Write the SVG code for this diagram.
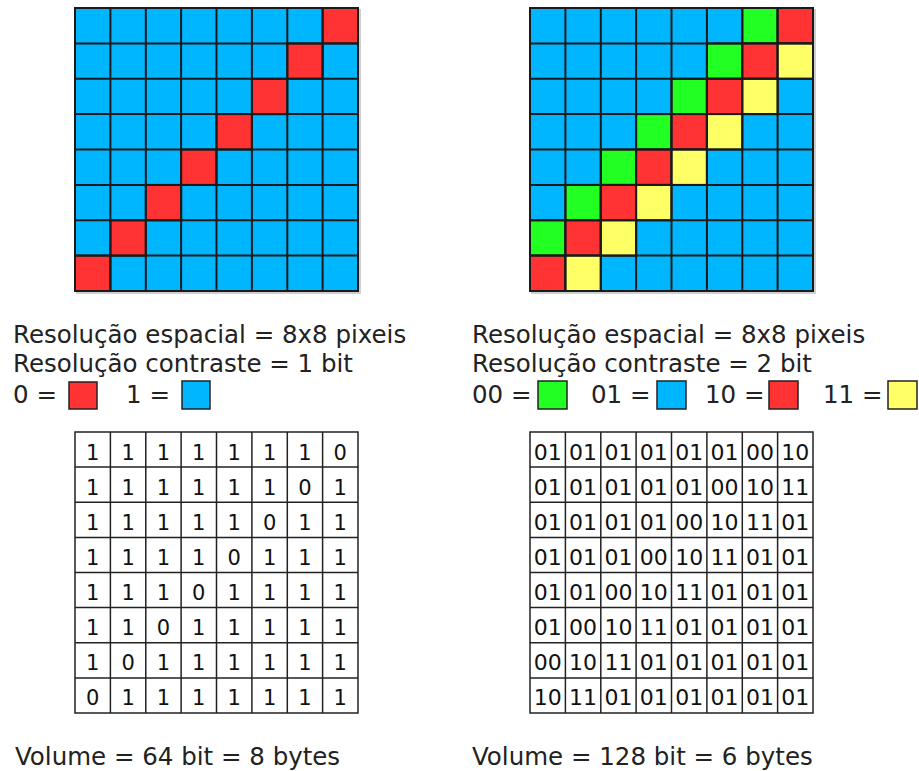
<svg xmlns="http://www.w3.org/2000/svg" width="919" height="771" viewBox="0 0 919 771">
<style>
.b{fill:#00B6FF}.r{fill:#FF3333}.g{fill:#22FF22}.y{fill:#FFFF66}
.cell{stroke:#1a1a1a;stroke-width:2}
.tc{fill:#fff;stroke:#222;stroke-width:1.5}
.t{font-family:"DejaVu Sans",Verdana,sans-serif;font-size:24.5px;fill:#222}
.d{font-family:"DejaVu Sans",Verdana,sans-serif;font-size:21px;fill:#111;text-anchor:middle}
.d2{font-family:"DejaVu Sans",Verdana,sans-serif;font-size:22px;fill:#111;text-anchor:middle}
.sh{fill:none;stroke:#cfcfcf;stroke-width:2}
.lg{stroke:#222;stroke-width:1.5}
</style>

<g id="grid1bit">
<path class="sh" d="M360 9V293H76"/>
<g class="cell">
<rect class="b" x="75" y="8" width="283" height="283"/>
<g class="r">
<rect x="322.6" y="8" width="35.4" height="35.4"/>
<rect x="287.3" y="43.4" width="35.4" height="35.4"/>
<rect x="251.9" y="78.8" width="35.4" height="35.4"/>
<rect x="216.5" y="114.1" width="35.4" height="35.4"/>
<rect x="181.1" y="149.5" width="35.4" height="35.4"/>
<rect x="145.8" y="184.9" width="35.4" height="35.4"/>
<rect x="110.4" y="220.3" width="35.4" height="35.4"/>
<rect x="75" y="255.6" width="35.4" height="35.4"/>
</g>
<path fill="none" d="M110.4 8V291M145.8 8V291M181.1 8V291M216.5 8V291M251.9 8V291M287.3 8V291M322.6 8V291M75 43.4H358M75 78.8H358M75 114.1H358M75 149.5H358M75 184.9H358M75 220.3H358M75 255.6H358"/>
<rect x="75" y="8" width="283" height="283" fill="none"/>
</g>
</g>

<g id="grid2bit">
<path class="sh" d="M815 9V293H531"/>
<g class="cell">
<rect class="b" x="530" y="8" width="283" height="283"/>
<g class="g">
<rect x="742.3" y="8" width="35.4" height="35.4"/>
<rect x="706.9" y="43.4" width="35.4" height="35.4"/>
<rect x="671.5" y="78.8" width="35.4" height="35.4"/>
<rect x="636.1" y="114.1" width="35.4" height="35.4"/>
<rect x="600.8" y="149.5" width="35.4" height="35.4"/>
<rect x="565.4" y="184.9" width="35.4" height="35.4"/>
<rect x="530" y="220.3" width="35.4" height="35.4"/>
</g>
<g class="r">
<rect x="777.6" y="8" width="35.4" height="35.4"/>
<rect x="742.3" y="43.4" width="35.4" height="35.4"/>
<rect x="706.9" y="78.8" width="35.4" height="35.4"/>
<rect x="671.5" y="114.1" width="35.4" height="35.4"/>
<rect x="636.1" y="149.5" width="35.4" height="35.4"/>
<rect x="600.8" y="184.9" width="35.4" height="35.4"/>
<rect x="565.4" y="220.3" width="35.4" height="35.4"/>
<rect x="530" y="255.6" width="35.4" height="35.4"/>
</g>
<g class="y">
<rect x="777.6" y="43.4" width="35.4" height="35.4"/>
<rect x="742.3" y="78.8" width="35.4" height="35.4"/>
<rect x="706.9" y="114.1" width="35.4" height="35.4"/>
<rect x="671.5" y="149.5" width="35.4" height="35.4"/>
<rect x="636.1" y="184.9" width="35.4" height="35.4"/>
<rect x="600.8" y="220.3" width="35.4" height="35.4"/>
<rect x="565.4" y="255.6" width="35.4" height="35.4"/>
</g>
<path fill="none" d="M565.4 8V291M600.8 8V291M636.1 8V291M671.5 8V291M706.9 8V291M742.3 8V291M777.6 8V291M530 43.4H813M530 78.8H813M530 114.1H813M530 149.5H813M530 184.9H813M530 220.3H813M530 255.6H813"/>
<rect x="530" y="8" width="283" height="283" fill="none"/>
</g>
</g>

<g id="legend1">
<text class="t" x="13" y="343">Resolução espacial = 8x8 pixeis</text>
<text class="t" x="13" y="372">Resolução contraste = 1 bit</text>
<text class="t" x="13" y="403">0 =</text>
<rect class="r lg" x="69" y="382" width="28" height="27"/>
<text class="t" x="126" y="403">1 =</text>
<rect class="b lg" x="182" y="381" width="28" height="28"/>
</g>

<g id="legend2">
<text class="t" x="472" y="343">Resolução espacial = 8x8 pixeis</text>
<text class="t" x="472" y="372">Resolução contraste = 2 bit</text>
<text class="t" x="472" y="403">00 =</text>
<rect class="g lg" x="538" y="381" width="29" height="28"/>
<text class="t" x="591" y="403">01 =</text>
<rect class="b lg" x="657" y="381" width="29" height="28"/>
<text class="t" x="705" y="403">10 =</text>
<rect class="r lg" x="769" y="381" width="29" height="28"/>
<text class="t" x="823" y="403">11 =</text>
<rect class="y lg" x="888" y="381" width="29" height="28"/>
</g>

<g id="table1">
<rect class="tc" x="75" y="432" width="283" height="281"/>
<path fill="none" stroke="#222" stroke-width="1.5" d="M110.4 432V713M145.8 432V713M181.1 432V713M216.5 432V713M251.9 432V713M287.3 432V713M322.6 432V713M75 467.1H358M75 502.3H358M75 537.4H358M75 572.5H358M75 607.6H358M75 642.8H358M75 677.9H358"/>
<g class="d">
<text y="459.5"><tspan x="92.7">1</tspan><tspan x="128.1">1</tspan><tspan x="163.5">1</tspan><tspan x="198.8">1</tspan><tspan x="234.2">1</tspan><tspan x="269.6">1</tspan><tspan x="305">1</tspan><tspan x="340.3">0</tspan></text>
<text y="494.6"><tspan x="92.7">1</tspan><tspan x="128.1">1</tspan><tspan x="163.5">1</tspan><tspan x="198.8">1</tspan><tspan x="234.2">1</tspan><tspan x="269.6">1</tspan><tspan x="305">0</tspan><tspan x="340.3">1</tspan></text>
<text y="529.8"><tspan x="92.7">1</tspan><tspan x="128.1">1</tspan><tspan x="163.5">1</tspan><tspan x="198.8">1</tspan><tspan x="234.2">1</tspan><tspan x="269.6">0</tspan><tspan x="305">1</tspan><tspan x="340.3">1</tspan></text>
<text y="564.9"><tspan x="92.7">1</tspan><tspan x="128.1">1</tspan><tspan x="163.5">1</tspan><tspan x="198.8">1</tspan><tspan x="234.2">0</tspan><tspan x="269.6">1</tspan><tspan x="305">1</tspan><tspan x="340.3">1</tspan></text>
<text y="600"><tspan x="92.7">1</tspan><tspan x="128.1">1</tspan><tspan x="163.5">1</tspan><tspan x="198.8">0</tspan><tspan x="234.2">1</tspan><tspan x="269.6">1</tspan><tspan x="305">1</tspan><tspan x="340.3">1</tspan></text>
<text y="635.1"><tspan x="92.7">1</tspan><tspan x="128.1">1</tspan><tspan x="163.5">0</tspan><tspan x="198.8">1</tspan><tspan x="234.2">1</tspan><tspan x="269.6">1</tspan><tspan x="305">1</tspan><tspan x="340.3">1</tspan></text>
<text y="670.3"><tspan x="92.7">1</tspan><tspan x="128.1">0</tspan><tspan x="163.5">1</tspan><tspan x="198.8">1</tspan><tspan x="234.2">1</tspan><tspan x="269.6">1</tspan><tspan x="305">1</tspan><tspan x="340.3">1</tspan></text>
<text y="705.4"><tspan x="92.7">0</tspan><tspan x="128.1">1</tspan><tspan x="163.5">1</tspan><tspan x="198.8">1</tspan><tspan x="234.2">1</tspan><tspan x="269.6">1</tspan><tspan x="305">1</tspan><tspan x="340.3">1</tspan></text>
</g>
</g>

<g id="table2">
<rect class="tc" x="530" y="432" width="283" height="281"/>
<path fill="none" stroke="#222" stroke-width="1.5" d="M565.4 432V713M600.8 432V713M636.1 432V713M671.5 432V713M706.9 432V713M742.3 432V713M777.6 432V713M530 467.1H813M530 502.3H813M530 537.4H813M530 572.5H813M530 607.6H813M530 642.8H813M530 677.9H813"/>
<g class="d2">
<text y="459.5"><tspan x="547.7">01</tspan><tspan x="583.1">01</tspan><tspan x="618.5">01</tspan><tspan x="653.8">01</tspan><tspan x="689.2">01</tspan><tspan x="724.6">01</tspan><tspan x="760">00</tspan><tspan x="795.3">10</tspan></text>
<text y="494.6"><tspan x="547.7">01</tspan><tspan x="583.1">01</tspan><tspan x="618.5">01</tspan><tspan x="653.8">01</tspan><tspan x="689.2">01</tspan><tspan x="724.6">00</tspan><tspan x="760">10</tspan><tspan x="795.3">11</tspan></text>
<text y="529.8"><tspan x="547.7">01</tspan><tspan x="583.1">01</tspan><tspan x="618.5">01</tspan><tspan x="653.8">01</tspan><tspan x="689.2">00</tspan><tspan x="724.6">10</tspan><tspan x="760">11</tspan><tspan x="795.3">01</tspan></text>
<text y="564.9"><tspan x="547.7">01</tspan><tspan x="583.1">01</tspan><tspan x="618.5">01</tspan><tspan x="653.8">00</tspan><tspan x="689.2">10</tspan><tspan x="724.6">11</tspan><tspan x="760">01</tspan><tspan x="795.3">01</tspan></text>
<text y="600"><tspan x="547.7">01</tspan><tspan x="583.1">01</tspan><tspan x="618.5">00</tspan><tspan x="653.8">10</tspan><tspan x="689.2">11</tspan><tspan x="724.6">01</tspan><tspan x="760">01</tspan><tspan x="795.3">01</tspan></text>
<text y="635.1"><tspan x="547.7">01</tspan><tspan x="583.1">00</tspan><tspan x="618.5">10</tspan><tspan x="653.8">11</tspan><tspan x="689.2">01</tspan><tspan x="724.6">01</tspan><tspan x="760">01</tspan><tspan x="795.3">01</tspan></text>
<text y="670.3"><tspan x="547.7">00</tspan><tspan x="583.1">10</tspan><tspan x="618.5">11</tspan><tspan x="653.8">01</tspan><tspan x="689.2">01</tspan><tspan x="724.6">01</tspan><tspan x="760">01</tspan><tspan x="795.3">01</tspan></text>
<text y="705.4"><tspan x="547.7">10</tspan><tspan x="583.1">11</tspan><tspan x="618.5">01</tspan><tspan x="653.8">01</tspan><tspan x="689.2">01</tspan><tspan x="724.6">01</tspan><tspan x="760">01</tspan><tspan x="795.3">01</tspan></text>
</g>
</g>

<g id="volumes">
<text class="t" x="15" y="765">Volume = 64 bit = 8 bytes</text>
<text class="t" x="472" y="765">Volume = 128 bit = 6 bytes</text>
</g>
</svg>
